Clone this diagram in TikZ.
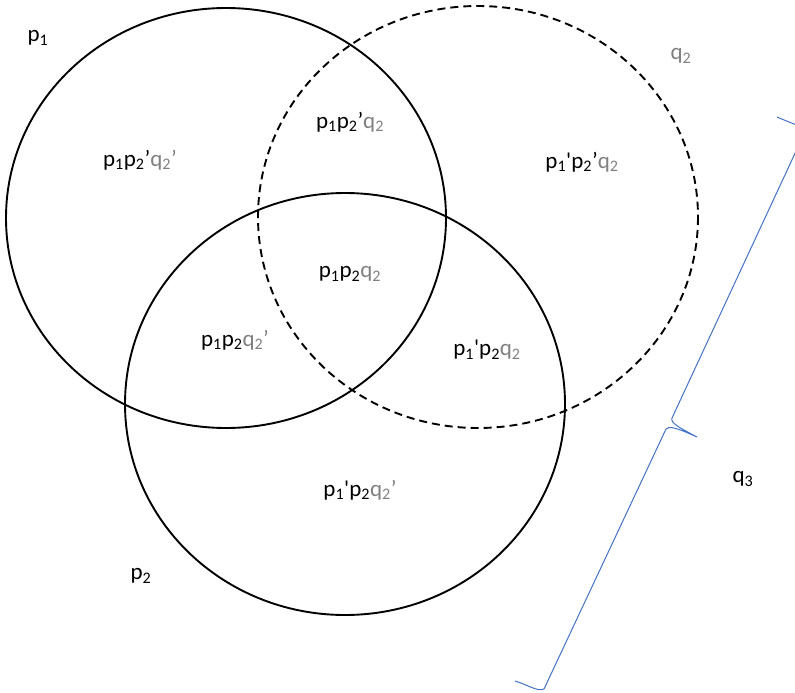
\documentclass[tikz,border=0pt]{standalone}
\usepackage{fontspec}
\setmainfont{Carlito}
\usepackage{xcolor}

\definecolor{qgray}{RGB}{128,128,128}
\definecolor{braceblue}{RGB}{68,114,196}
\newcommand{\qg}[1]{\textcolor{qgray}{#1}}
\newcommand{\sub}[1]{\textsubscript{#1}}

\begin{document}
\begin{tikzpicture}[x=1pt, y=-1pt, font=\fontsize{23}{27}\selectfont]
    \useasboundingbox (0,0) rectangle (795,693);
    \clip (0,0) rectangle (795,693);

    % Centres of the sets
    \coordinate (C1) at (226,218);
    \coordinate (C2) at (478,217);
    \coordinate (C3) at (345,404);

    % Sets p1, q2, p2
    \draw[line width=1.9pt] (C1) ellipse [x radius=220, y radius=210];
    \draw[line width=1.9pt, dash pattern=on 8pt off 5pt] (C2) ellipse [x radius=220, y radius=211];
    \draw[line width=1.9pt] (C3) ellipse [x radius=220, y radius=211];

    % Set names
    \node (p1) at (38,38) {p\sub{1}};
    \node (q2) at (681,56) {\qg{q\sub{2}}};
    \node (p2) at (141,576) {p\sub{2}};
    \node (q3) at (743,479) {q\sub{3}};

    % Regions
    \node (r1) at (140,160) {p\sub{1}p\sub{2}’\qg{q\sub{2}’}};
    \node (r2) at (350,122) {p\sub{1}p\sub{2}’\qg{q\sub{2}}};
    \node (r3) at (582,162) {p\sub{1}\textquotesingle p\sub{2}’\qg{q\sub{2}}};
    \node (r4) at (350,274) {p\sub{1}p\sub{2}\qg{q\sub{2}}};
    \node (r5) at (235,340) {p\sub{1}p\sub{2}\qg{q\sub{2}’}};
    \node (r6) at (487,350) {p\sub{1}\textquotesingle p\sub{2}\qg{q\sub{2}}};
    \node (r7) at (360,490) {p\sub{1}\textquotesingle p\sub{2}\qg{q\sub{2}’}};

    % Brace for q3
    \coordinate (B0) at (515,681);
    \coordinate (B1) at (544,689);
    \coordinate (B2) at (666,429);
    \coordinate (tip) at (697,437);
    \coordinate (B3) at (672,418);
    \coordinate (B4) at (804,134);
    \coordinate (B5) at (777,117);
    \draw[braceblue, line width=1pt, line join=round]
        (B0) .. controls (528,685) and (538,692) .. (B1) -- (B2)
        .. controls (669,426) and (675,427) .. (tip)
        .. controls (680,428) and (670,423) .. (B3) -- (B4)
        .. controls (807,127) and (795,125) .. (B5);
\end{tikzpicture}
\end{document}
